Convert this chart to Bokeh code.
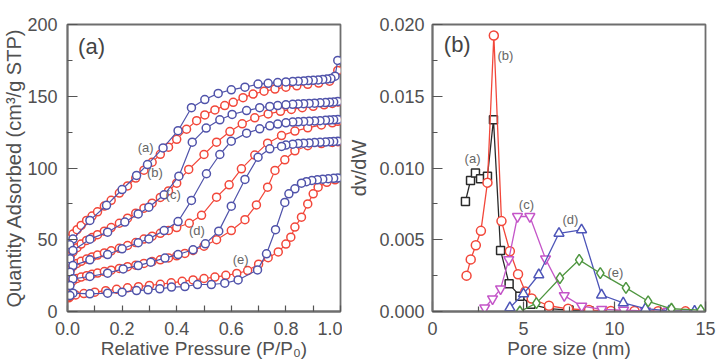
from bokeh.plotting import figure
from bokeh.layouts import row
from bokeh.models import Range1d, FixedTicker, NumeralTickFormatter, Label
from bokeh.embed import file_html
from bokeh.resources import INLINE

FONT = "Liberation Sans"
RED = "#f2473a"
BLUE = "#5053aa"

# ---- (a) N2 isotherms: adsorption (red) / desorption (blue) branches ----
p_ads_a = [0.005, 0.01, 0.02, 0.035, 0.05, 0.07, 0.09, 0.11, 0.135, 0.16, 0.19, 0.22, 0.25, 0.28, 0.31,
           0.34, 0.37, 0.40, 0.436, 0.473, 0.503, 0.54, 0.576, 0.607, 0.643, 0.68, 0.72, 0.76, 0.80, 0.84,
           0.88, 0.92, 0.96, 0.99]
q_ads_a = [48, 51, 54, 57, 60, 63.5, 66.5, 69.5, 73.5, 77.5, 82.5, 87.5, 93, 98.5, 104,
           109.5, 114.5, 120, 127, 133, 137, 140.5, 143.5, 145.8, 149, 151.5, 153.5, 155, 156.3, 157.3,
           158.3, 159.2, 160.5, 168]
p_des_a = [0.99, 0.98, 0.965, 0.95, 0.935, 0.918, 0.9, 0.882, 0.865, 0.845, 0.825, 0.80, 0.77, 0.735,
           0.698, 0.65, 0.60, 0.552, 0.503, 0.454, 0.405, 0.35, 0.293, 0.253, 0.20, 0.143, 0.082, 0.02, 0.008]
q_des_a = [175, 164, 162.3, 162, 161.7, 161.4, 161.1, 160.9, 160.7, 160.5, 160.2, 160, 159.5, 159,
           158.5, 156.3, 154.5, 152, 147.7, 142, 126, 114, 102.4, 94.8, 85, 74, 63.5, 50.5, 46.5]

p_ads_b = [0.005, 0.01, 0.02, 0.035, 0.05, 0.07, 0.09, 0.11, 0.135, 0.16, 0.19, 0.22, 0.25, 0.28, 0.31,
           0.34, 0.37, 0.40, 0.444, 0.50, 0.546, 0.595, 0.64, 0.686, 0.735, 0.78, 0.82, 0.86, 0.90, 0.94,
           0.97, 0.99]
q_ads_b = [35, 38.5, 41.5, 44.5, 47, 49.5, 51.5, 53.5, 56, 58.5, 61.5, 65, 68.5, 72, 75.5,
           79.5, 84, 89.4, 99, 109.4, 118, 125.4, 130.8, 135, 137.7, 139.5, 140.8, 142, 143, 144,
           145, 146]
p_des_b = [0.99, 0.975, 0.96, 0.945, 0.925, 0.905, 0.885, 0.865, 0.845, 0.825, 0.80, 0.77, 0.741, 0.704,
           0.656, 0.603, 0.558, 0.508, 0.457, 0.408, 0.354, 0.298, 0.259, 0.21, 0.147, 0.082, 0.02, 0.009]
q_des_b = [146.3, 146, 145.8, 145.6, 145.4, 145.2, 145, 144.8, 144.6, 144.4, 144, 143.5, 142.9, 142,
           140, 137.3, 133.6, 127.8, 118, 94.3, 81.3, 72.7, 68, 62.3, 55.3, 50.4, 42.5, 36.7]

p_ads_c = [0.005, 0.01, 0.02, 0.035, 0.05, 0.07, 0.09, 0.11, 0.135, 0.16, 0.19, 0.22, 0.25, 0.28, 0.31,
           0.34, 0.37, 0.40, 0.446, 0.491, 0.546, 0.592, 0.637, 0.686, 0.733, 0.784, 0.833, 0.88, 0.93,
           0.97, 0.99]
q_ads_c = [26, 29, 31.5, 33.5, 35, 36.5, 38, 39.3, 40.8, 42.3, 44, 46, 48, 50.5, 52.5,
           54.5, 56.5, 58.5, 61.5, 67, 79.7, 88.3, 99.4, 109, 117.3, 122.6, 125.7, 128, 130,
           131.5, 132.5]
p_des_c = [0.99, 0.975, 0.96, 0.945, 0.925, 0.905, 0.885, 0.865, 0.845, 0.825, 0.80, 0.77, 0.741, 0.704,
           0.656, 0.60, 0.558, 0.509, 0.454, 0.405, 0.354, 0.298, 0.259, 0.20, 0.147, 0.082, 0.02, 0.009]
q_des_c = [133.8, 133.6, 133.4, 133.2, 133, 132.8, 132.6, 132.4, 132.2, 132, 131.5, 130.6, 129.4, 127.3,
           124.3, 118.7, 109.4, 96, 77.4, 62.7, 56.4, 50.6, 47.9, 43.7, 39.7, 36, 32, 27.4]

p_ads_d = [0.005, 0.01, 0.02, 0.035, 0.05, 0.07, 0.09, 0.11, 0.135, 0.16, 0.19, 0.22, 0.25, 0.28, 0.31,
           0.34, 0.37, 0.40, 0.43, 0.46, 0.50, 0.546, 0.60, 0.65, 0.692, 0.733, 0.76, 0.796, 0.833, 0.88,
           0.93, 0.97, 0.99]
q_ads_d = [17, 19.5, 21.5, 23, 24, 25, 26, 26.8, 27.8, 28.8, 30, 31.2, 32.3, 33.5, 34.8,
           36, 37.3, 38.8, 40.5, 42.5, 45.5, 50, 56.4, 64, 74.3, 86.6, 98.3, 105.7, 112, 115.5,
           117, 117.8, 118.3]
p_des_d = [0.99, 0.975, 0.96, 0.945, 0.925, 0.905, 0.885, 0.865, 0.845, 0.825, 0.80, 0.784, 0.741, 0.698,
           0.65, 0.60, 0.554, 0.505, 0.46, 0.405, 0.357, 0.305, 0.259, 0.204, 0.147, 0.082, 0.02, 0.009]
q_des_d = [118.7, 118.5, 118.3, 118.1, 117.9, 117.7, 117.5, 117.3, 117, 116.6, 116, 115, 113.4, 107.5,
           92, 73.4, 56, 47.2, 43, 39.7, 37.2, 34.4, 32, 29.7, 26.7, 24.4, 22.8, 18.1]

p_ads_e = [0.005, 0.01, 0.03, 0.06, 0.10, 0.14, 0.18, 0.22, 0.26, 0.30, 0.34, 0.38, 0.42, 0.46, 0.50,
           0.54, 0.58, 0.62, 0.66, 0.70, 0.735, 0.772, 0.80, 0.818, 0.833, 0.857, 0.88, 0.90, 0.918,
           0.95, 0.98]
q_ads_e = [9.5, 10.5, 11.5, 12.5, 13.5, 14.5, 15.5, 16.5, 17.3, 18.2, 19, 20, 21, 22, 23,
           24, 25.2, 26.5, 28.5, 33, 37.5, 41.5, 47, 51.8, 58.8, 65.7, 75, 82, 86.6,
           90, 91.8]
p_des_e = [0.99, 0.975, 0.955, 0.935, 0.915, 0.895, 0.875, 0.857, 0.833, 0.811, 0.796, 0.762, 0.729, 0.696,
           0.625, 0.576, 0.527, 0.476, 0.43, 0.381, 0.338, 0.295, 0.253, 0.20, 0.147, 0.082, 0.02, 0.009]
q_des_e = [93, 92.8, 92.5, 92.2, 91.8, 91.3, 90.5, 89.4, 85.5, 82, 76, 57, 40.2, 29,
           22, 19.7, 18.8, 18.8, 17.4, 17, 15.8, 15.1, 14.6, 13.5, 12.8, 12.3, 12.8, 11.1]

iso_labels = ["(a)", "(b)", "(c)", "(d)", "(e)"]
iso_label_p = [0.286, 0.32, 0.387, 0.474, 0.634]
iso_label_q = [114.5, 97, 81.3, 56.4, 36.2]

# ---- (b) pore size distributions ----
d_a = [1.81, 2.09, 2.36, 2.64, 3.02, 3.35, 3.74, 4.21, 4.8, 5.4, 6.4, 7.5, 8.6]
v_a = [0.00767, 0.00913, 0.00966, 0.00925, 0.00943, 0.01336, 0.00425, 0.00193, 0.00107, 0.0005, 0.0002,
       0.0001, 0.00005]
d_b = [1.87, 2.1, 2.38, 2.66, 3.02, 3.37, 3.79, 4.25, 4.7, 5.1, 5.45, 6.4, 7.45, 8.6, 9.8, 11.1, 12.4, 13.9]
v_b = [0.0025, 0.00363, 0.00462, 0.00562, 0.00898, 0.01923, 0.0063, 0.0042, 0.0026, 0.0014, 0.0009,
       0.0004, 0.00019, 0.0001, 0.00004, 0.00003, 0.00002, 0.00001]
d_c = [2.87, 3.3, 3.74, 4.19, 4.67, 5.35, 6.21, 7.24, 8.2, 9.3, 10.5, 11.7, 12.95]
v_c = [0.00026, 0.00088, 0.00158, 0.00362, 0.00662, 0.00662, 0.00367, 0.00111, 0.00037, 0.00015,
       0.0001, 0.00005, 0.00003]
d_d = [4.25, 5.0, 5.84, 6.95, 8.19, 9.29, 10.48, 11.7, 13.0, 14.4]
v_d = [0.00026, 0.00123, 0.00256, 0.00545, 0.00569, 0.00115, 0.0006, 0.0002, 0.00005, 0.00002]
d_e = [4.8, 5.71, 7.0, 8.06, 9.22, 10.63, 11.85, 13.13, 14.74]
v_e = [0.0, 0.00058, 0.00232, 0.0036, 0.00267, 0.00165, 0.00071, 0.00019, 0.0001]

psd_labels = ["(a)", "(b)", "(c)", "(d)", "(e)"]
psd_label_d = [2.2, 4.01, 5.16, 7.58, 10.05]
psd_label_v = [0.01066, 0.01784, 0.00746, 0.00641, 0.0027]


def make_panel(x_range, y_range, border_left, border_right):
    p = figure(frame_width=273, frame_height=287, x_range=x_range, y_range=y_range,
               output_backend="svg", toolbar_location=None,
               min_border_left=border_left, min_border_right=border_right,
               min_border_top=24, min_border_bottom=52, background_fill_color="white",
               border_fill_color="white")
    p.grid.visible = False
    p.outline_line_color = "#6e6e6e"
    p.outline_line_width = 1.8
    for ax in (p.xaxis[0], p.yaxis[0]):
        ax.axis_line_color = "#6e6e6e"
        ax.axis_line_width = 1.8
        ax.major_tick_out = 0
        ax.minor_tick_out = 0
        ax.major_tick_line_color = "#555555"
        ax.minor_tick_line_color = "#555555"
        ax.major_tick_line_width = 1.2
        ax.minor_tick_line_width = 1.2
        ax.major_label_text_font = FONT
        ax.major_label_text_font_size = "18px"
        ax.major_label_text_color = "#505050"
        ax.axis_label_text_font = FONT
        ax.axis_label_text_font_style = "normal"
        ax.axis_label_text_color = "#505050"
    p.xaxis.axis_label_text_font_size = "19px"
    p.yaxis.axis_label_text_font_size = "20px"
    p.xaxis.major_label_standoff = 10
    p.yaxis.major_label_standoff = 8
    p.xaxis.axis_label_standoff = 0
    return p


# Left panel: isotherms
p1 = make_panel(Range1d(0, 1), Range1d(0, 200), 66, 2)
p1.yaxis.major_label_standoff = 10
p1.yaxis.axis_label_standoff = -1
p1.xaxis.ticker = FixedTicker(ticks=[0, 0.2, 0.4, 0.6, 0.8, 1.0],
                              minor_ticks=[0.1, 0.3, 0.5, 0.7, 0.9])
p1.xaxis.major_tick_in = 6
p1.xaxis.minor_tick_in = 6
p1.xaxis.formatter = NumeralTickFormatter(format="0.0")
p1.yaxis.ticker = FixedTicker(ticks=[0, 50, 100, 150, 200], minor_ticks=[25, 75, 125, 175])
p1.yaxis.major_tick_in = 10
p1.yaxis.minor_tick_in = 5
p1.xaxis.axis_label = "Relative Pressure (P/P\u2080)"
p1.yaxis.axis_label = "Quantity Adsorbed (cm\u00b3/g STP)"

ads = [(p_ads_a, q_ads_a), (p_ads_b, q_ads_b), (p_ads_c, q_ads_c), (p_ads_d, q_ads_d), (p_ads_e, q_ads_e)]
des = [(p_des_a, q_des_a), (p_des_b, q_des_b), (p_des_c, q_des_c), (p_des_d, q_des_d), (p_des_e, q_des_e)]
for (xs, ys) in ads:
    p1.line(xs, ys, line_color=RED, line_width=1.2)
    p1.scatter(xs, ys, marker="circle", size=8, line_color=RED, line_width=1.5, fill_color="white")
for (xs, ys) in des:
    p1.line(xs, ys, line_color=BLUE, line_width=1.2)
    p1.scatter(xs, ys, marker="circle", size=8, line_color=BLUE, line_width=1.5, fill_color="white")

for t, x, y in zip(iso_labels, iso_label_p, iso_label_q):
    p1.add_layout(Label(x=x, y=y, text=t, text_align="center", text_baseline="middle",
                        text_font=FONT, text_font_size="13px", text_color="#666666"))
p1.add_layout(Label(x=0.088, y=184.7, text="(a)", text_align="center", text_baseline="middle",
                    text_font=FONT, text_font_size="22px", text_color="#444444"))

# Right panel: pore size distributions
p2 = make_panel(Range1d(0, 15), Range1d(0, 0.02), 90, 14)
p2.yaxis.axis_label_standoff = 6
p2.xaxis.ticker = FixedTicker(ticks=[0, 5, 10, 15], minor_ticks=[2.5, 7.5, 12.5])
p2.xaxis.major_tick_in = 10
p2.xaxis.minor_tick_in = 5
p2.yaxis.ticker = FixedTicker(ticks=[0, 0.005, 0.010, 0.015, 0.020],
                              minor_ticks=[0.0025, 0.0075, 0.0125, 0.0175])
p2.yaxis.major_tick_in = 10
p2.yaxis.minor_tick_in = 5
p2.yaxis.formatter = NumeralTickFormatter(format="0.000")
p2.xaxis.axis_label = "Pore size (nm)"
p2.yaxis.axis_label = "dv/dW"

psd = [
    (d_a, v_a, "#2a2a2a", "square", 8),
    (d_b, v_b, RED, "circle", 9),
    (d_c, v_c, "#c455c8", "inverted_triangle", 10),
    (d_d, v_d, "#4d55b8", "triangle", 10),
    (d_e, v_e, "#4f9640", "diamond", 11),
]
for xs, ys, col, mk, sz in psd:
    p2.line(xs, ys, line_color=col, line_width=1.3)
    p2.scatter(xs, ys, marker=mk, size=sz, line_color=col, line_width=1.5, fill_color="white")

for t, x, y in zip(psd_labels, psd_label_d, psd_label_v):
    p2.add_layout(Label(x=x, y=y, text=t, text_align="center", text_baseline="middle",
                        text_font=FONT, text_font_size="13px", text_color="#666666"))
p2.add_layout(Label(x=1.36, y=0.01858, text="(b)", text_align="center", text_baseline="middle",
                    text_font=FONT, text_font_size="22px", text_color="#444444"))

layout = row(p1, p2)
open("out.html", "w").write(file_html(layout, INLINE))
